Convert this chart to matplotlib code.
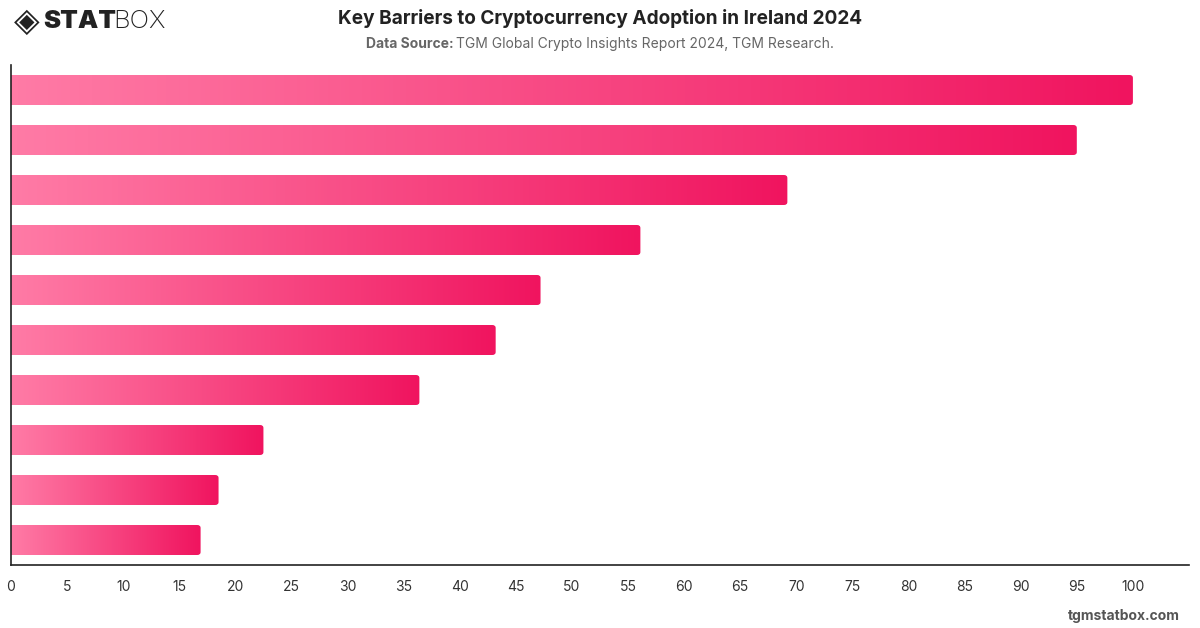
import numpy as np
import matplotlib
matplotlib.use('Agg')
import matplotlib.pyplot as plt
from matplotlib.colors import LinearSegmentedColormap
from matplotlib.patches import FancyBboxPatch

plt.rcParams['font.family'] = ['Inter', 'DejaVu Sans']

# bar values, top to bottom (category labels are not shown in the chart)
values = [100.0, 95.0, 69.2, 56.1, 47.2, 43.2, 36.4, 22.5, 18.5, 16.9]
xticks = list(range(0, 101, 5))

title = 'Key Barriers to Cryptocurrency Adoption in Ireland 2024'
source = 'TGM Global Crypto Insights Report 2024, TGM Research.'

fig = plt.figure(figsize=(12, 6.28), dpi=100)
ax = fig.add_axes([11 / 1200, 1 - 565 / 628, 1178 / 1200, 500 / 628])

cmap = LinearSegmentedColormap.from_list('pink', ['#FF7BA6', '#F0145F'])
grad = np.linspace(0, 1, 256).reshape(1, -1)

n = len(values)
h = 0.6
for i, v in enumerate(values):
    y = n - 1 - i
    patch = FancyBboxPatch((-3, y - h / 2), v + 3, h,
                           boxstyle='round,pad=0,rounding_size=0.3',
                           mutation_aspect=0.2,
                           facecolor='none', edgecolor='none')
    ax.add_patch(patch)
    im = ax.imshow(grad, cmap=cmap, aspect='auto', interpolation='bilinear',
                   extent=(0, v, y - h / 2, y + h / 2), zorder=2)
    im.set_clip_path(patch)

ax.set_xlim(0, 105)
ax.set_ylim(-0.5, n - 0.5)
ax.set_xticks(xticks)
ax.set_xticklabels([str(t) for t in xticks], fontsize=10, color='#333333')
ax.tick_params(axis='x', length=0, pad=11)
for lbl in ax.get_xticklabels():
    lbl.set_x(lbl.get_position()[0])
ax.set_yticks([])
for s in ['top', 'right']:
    ax.spines[s].set_visible(False)
for s in ['left', 'bottom']:
    ax.spines[s].set_color('#222222')
    ax.spines[s].set_linewidth(1.2)

fig.text(0.5, 1 - 18 / 628, title, ha='center', va='center',
         fontsize=13.7, fontweight='bold', color='#222222')
sub1 = fig.text(0.5, 1 - 44 / 628, 'Data Source: ', ha='right', va='center',
                fontsize=10, fontweight='bold', color='#666666')
sub2 = fig.text(0.5, 1 - 44 / 628, source, ha='left', va='center',
                fontsize=10, color='#666666')
# recentre the two-part subtitle
fig.canvas.draw()
r = fig.canvas.get_renderer()
w1 = sub1.get_window_extent(r).width
w2 = sub2.get_window_extent(r).width
shift = (w1 - w2) / 2 / 1200
sub1.set_x(0.5 + shift)
sub2.set_x(0.5 + shift)

# logo
fig.text(14 / 1200, 1 - 21 / 628, '◈', ha='left', va='center', fontsize=24,
         color='#222222', family='DejaVu Sans')
fig.text(43 / 1200, 1 - 21 / 628, 'STAT', ha='left', va='center', fontsize=18.5,
         fontweight='black', color='#222222')
fig.text(113 / 1200, 1 - 21 / 628, 'BOX', ha='left', va='center', fontsize=18.5,
         fontweight='light', color='#222222')

fig.text(1180 / 1200, 1 - 616 / 628, 'tgmstatbox.com', ha='right', va='center',
         fontsize=10, fontweight='bold', color='#555555')

fig.savefig('out.png', dpi=100, facecolor='white')
